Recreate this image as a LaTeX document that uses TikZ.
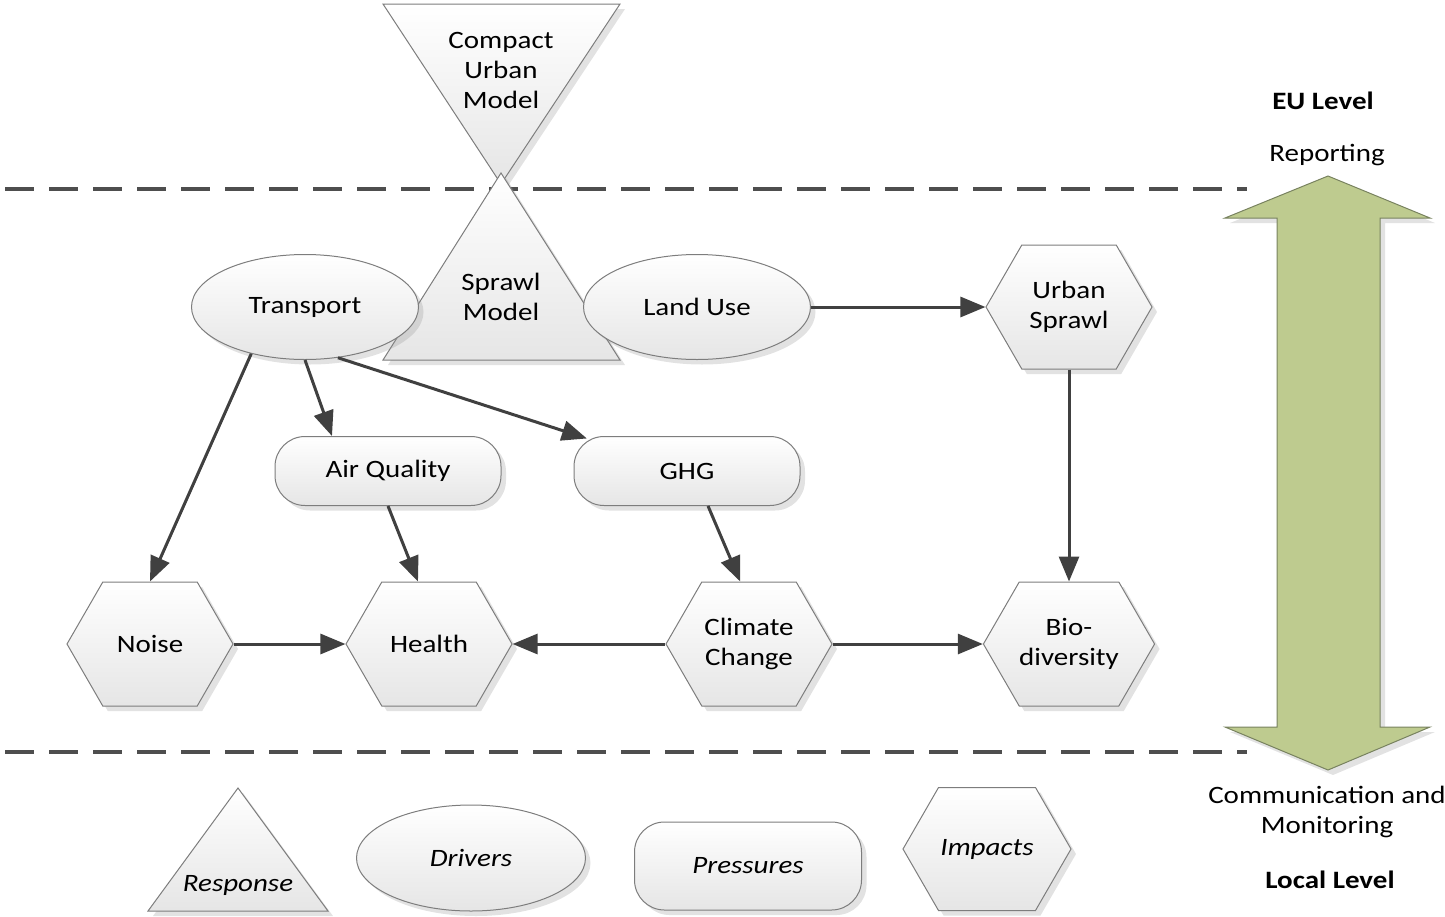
\documentclass[tikz,border=0pt]{standalone}
\usepackage{fontspec}
\setmainfont{Carlito}[FakeStretch = 1.16]
\usepackage{tikz}
\usetikzlibrary{shapes.geometric,shapes.symbols,shadows,arrows.meta}
\definecolor{boxline}{RGB}{125,125,125}
\definecolor{arrowgray}{RGB}{64,64,64}
\definecolor{dashgray}{RGB}{78,78,78}
\definecolor{levelgreen}{RGB}{190,203,143}
\definecolor{levelline}{RGB}{120,130,95}
\tikzset{
	base/.style = {draw = boxline, line width = 1pt, top color = white, bottom color = black!10,
		drop shadow = {shadow xshift = 5pt, shadow yshift = -5pt, opacity = 0.25, fill = black!45},
		align = center, font = \fontsize{25}{30}\selectfont, inner sep = 0pt},
	driver/.style = {base, ellipse, minimum width = 227pt, minimum height = 105pt},
	pressure/.style = {base, rectangle, rounded corners = 30pt, minimum width = 226pt, minimum height = 69pt},
	impact/.style = {base, signal, signal to = east and west, signal pointer angle = 120,
		minimum width = 166pt, minimum height = 124pt},
	response/.style = {base},
	label/.style = {align = center, font = \fontsize{25}{30}\selectfont, inner sep = 0pt},
	link/.style = {draw = arrowgray, line width = 3pt, -{Triangle[length = 25pt, width = 20pt]}},
	level/.style = {draw = dashgray, line width = 3.5pt, dash pattern = on 29pt off 15pt},
}

\begin{document}
\begin{tikzpicture}[x = 1pt, y = -1pt]
	
	\useasboundingbox (0,0) rectangle (1445,916);
	
	% levels
	\draw[level] (5,189) -- (1247,189);
	\draw[level] (5,752) -- (1247,752);
	
	% responses
	\draw[response] (383,4) -- (620,4) -- (501,184) -- cycle;
	\draw[response] (501,173) -- (620,360) -- (383,360) -- cycle;
	\node[label] (compact) at (501,70) {Compact\\Urban\\Model};
	\node[label] (sprawl) at (501,297) {Sprawl\\Model};
	
	% drivers
	\node[driver] (transport) at (305,307) {Transport};
	\node[driver] (landuse) at (697,307) {Land Use};
	
	% pressures
	\node[pressure] (airquality) at (388,471) {Air Quality};
	\node[pressure] (ghg) at (687,471) {GHG};
	
	% impacts
	\node[impact] (urbansprawl) at (1069,307) {Urban\\Sprawl};
	\node[impact] (noise) at (150,644) {Noise};
	\node[impact] (health) at (429,644) {Health};
	\node[impact] (climate) at (749,644) {Climate\\Change};
	\node[impact] (biodiv) at (1069,644) {Bio-\\diversity};
	
	% links
	\draw[link] (transport.221) -- (noise.north);
	\draw[link] (transport.south) -- (airquality.148);
	\draw[link, shorten >= -8pt] (transport.303) -- (ghg);
	\draw[link] (landuse.east) -- (urbansprawl.west);
	\draw[link] (urbansprawl.south) -- (biodiv.north);
	\draw[link] (airquality.south) -- (health.100);
	\draw[link] (ghg.301) -- (climate.98);
	\draw[link] (noise.east) -- (health.west);
	\draw[link] (climate.west) -- (health.east);
	\draw[link] (climate.east) -- (biodiv.west);
	
	% scale arrow
	\draw[draw = levelline, line width = 1pt, fill = levelgreen,
		drop shadow = {shadow xshift = 5pt, shadow yshift = -5pt, opacity = 0.25, fill = black!45}]
		(1328,176) -- (1430,218) -- (1380,218) -- (1380,727) -- (1430,727) -- (1328,770)
		-- (1225,727) -- (1277,727) -- (1277,218) -- (1225,218) -- cycle;
	\node[label, font = \fontsize{25}{30}\selectfont\bfseries] (eu) at (1323,101) {EU Level};
	\node[label] (reporting) at (1327,155) {Reporting};
	\node[label] (communication) at (1327,812) {Communication and\\Monitoring};
	\node[label, font = \fontsize{25}{30}\selectfont\bfseries] (local) at (1330,880) {Local Level};
	
	% legend
	\draw[response] (238,788) -- (328,911) -- (148,911) -- cycle;
	\node[label, font = \fontsize{25}{30}\selectfont\itshape] (responselabel) at (238,885) {Response};
	\node[driver, minimum width = 229pt, minimum height = 106pt, font = \fontsize{25}{30}\selectfont\itshape]
		(drivers) at (471,858) {Drivers};
	\node[pressure, minimum width = 227pt, minimum height = 88pt, font = \fontsize{25}{30}\selectfont\itshape]
		(pressures) at (748,866) {Pressures};
	\node[impact, minimum width = 168pt, minimum height = 123pt, font = \fontsize{25}{30}\selectfont\itshape]
		(impacts) at (987,849) {Impacts};
	
\end{tikzpicture}
\end{document}
